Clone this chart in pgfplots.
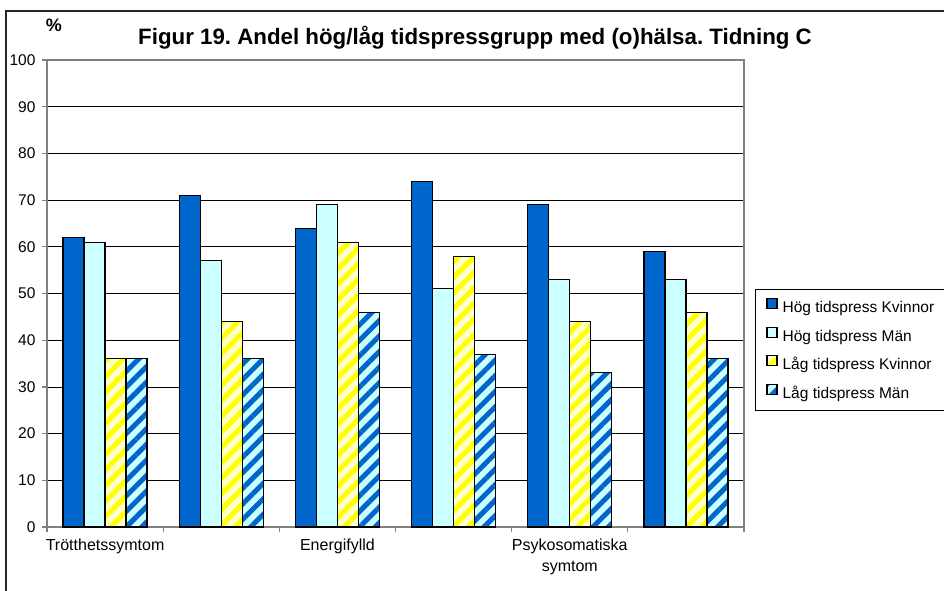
\documentclass[border=0pt]{standalone}
\usepackage{fontspec}
\setmainfont{Liberation Sans}
\usepackage{pgfplots}
\pgfplotsset{compat=1.18}
\usetikzlibrary{patterns.meta}
\definecolor{dblue}{RGB}{0,102,204}
\definecolor{lcyan}{RGB}{204,255,255}
\definecolor{lyel}{RGB}{255,255,204}
\definecolor{yel}{RGB}{255,255,0}
\frenchspacing
\begin{document}
\begin{tikzpicture}
\path[use as bounding box] (0pt,-591pt) rectangle (944pt,0pt);
\draw[black!85, line width=2pt] (6pt,-591pt) -- (6pt,-11pt) -- (944pt,-11pt);
\node[font=\bfseries\fontsize{22.3}{26}\selectfont] at (475pt,-38pt) {Figur 19. Andel hög/låg tidspressgrupp med (o)hälsa. Tidning C};
\node[font=\bfseries\fontsize{18}{21}\selectfont] at (54pt,-25pt) {\%};
\begin{axis}[
 at={(47pt,-527pt)}, anchor=south west,
 scale only axis, width=697pt, height=467pt,
 ybar=0pt, bar width=21pt,
 xmin=0, xmax=6, ymin=0, ymax=100,
 xtick={0,...,6}, xticklabels={},
 extra x ticks={0.5,2.5,4.5},
 extra x tick labels={Trötthetssymtom,Energifylld,{Psykosomatiska\\symtom}},
 extra x tick style={major tick length=0pt, tick label style={align=center, yshift=-8pt, font=\fontsize{16}{21}\selectfont}},
 ytick={0,10,...,100},
 xtick pos=bottom, ytick pos=left,
 tick align=outside, major tick length=5pt,
 tick style={gray, line width=1.2pt},
 axis line style={gray, line width=1.5pt},
 ymajorgrids, major grid style={black, line width=0.8pt},
 tick label style={font=\fontsize{15.5}{21}\selectfont},
 /pgf/number format/assume math mode=true,
 yticklabel style={xshift=-3pt},
 legend style={at={(1.0158,0.5096)}, anchor=north west, draw=black, line width=0.8pt, fill=white,
   inner xsep=11pt, inner ysep=8.75pt, row sep=10.7pt, column sep=5pt,
   font=\fontsize{15.5}{18}\selectfont,
   nodes={inner sep=0pt, text height=11pt, text depth=3.5pt}},
 legend image code/.code={\draw[#1] (0pt,0pt) rectangle (10pt,10pt);},
 legend cell align=left,
]
\addplot[draw=black, line width=1.2pt, fill=dblue] coordinates {(0.5,62) (1.5,71) (2.5,64) (3.5,74) (4.5,69) (5.5,59)};
\addplot[draw=black, line width=1.2pt, fill=lcyan] coordinates {(0.5,61) (1.5,57) (2.5,69) (3.5,51) (4.5,53) (5.5,53)};
\addplot[draw=black, line width=1.2pt, preaction={fill=lyel}, pattern={Lines[angle=45,distance=11pt,line width=5pt]}, pattern color=yel] coordinates {(0.5,36) (1.5,44) (2.5,61) (3.5,58) (4.5,44) (5.5,46)};
\addplot[draw=black, line width=1.2pt, preaction={fill=lcyan}, pattern={Lines[angle=45,distance=11pt,line width=5pt]}, pattern color=dblue] coordinates {(0.5,36) (1.5,36) (2.5,46) (3.5,37) (4.5,33) (5.5,36)};
\legend{Hög tidspress Kvinnor, Hög tidspress Män, Låg tidspress Kvinnor, Låg tidspress Män}
\end{axis}
\end{tikzpicture}
\end{document}
